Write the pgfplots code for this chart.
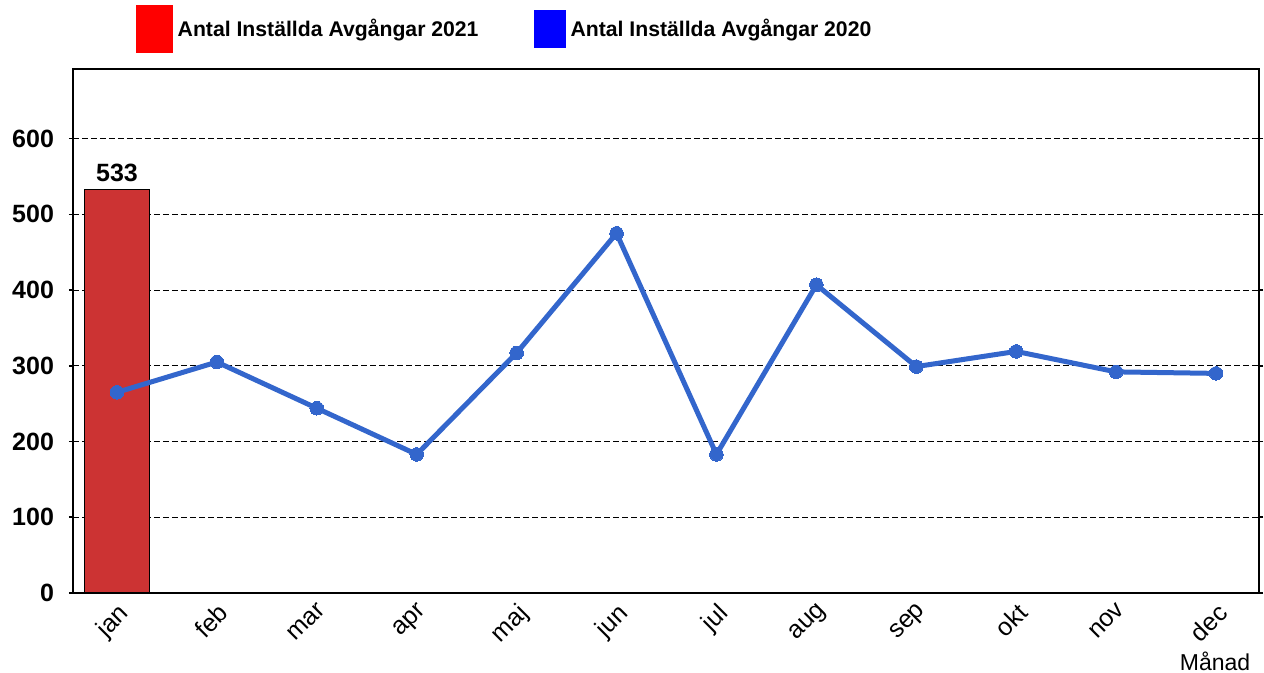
\documentclass[border=0pt]{standalone}
\usepackage{pgfplots}
\pgfplotsset{compat=1.18}
\usepackage{fontspec}
\setmainfont{Liberation Sans}
\definecolor{barred}{HTML}{CC3333}
\definecolor{lineblue}{HTML}{3366CC}
\definecolor{legred}{HTML}{FF0000}
\definecolor{legblue}{HTML}{0000FF}
\begin{document}
\begin{tikzpicture}
\path[use as bounding box] (0,0) rectangle (632pt,336.5pt);
\begin{axis}[
  at={(36.5pt,40pt)}, anchor=south west,
  scale only axis, width=593pt, height=262pt,
  xmin=-0.44, xmax=11.43, ymin=0, ymax=692,
  xtick={0,...,11},
  xticklabels={jan,feb,mar,apr,maj,jun,jul,aug,sep,okt,nov,dec},
  ytick={0,100,...,600},
  major x tick style={draw=none},
  tick align=outside, major tick length=2pt,
  ytick style={line width=0.8pt, black},
  /pgf/number format/assume math mode=true,
  yticklabel style={font=\bfseries\fontsize{12.5}{15}\selectfont, xshift=-4pt},
  xticklabel style={font=\fontsize{12.5}{15}\selectfont, rotate=45, anchor=north east, inner sep=1.5pt},
  ymajorgrids, grid style={black, dash pattern=on 3pt off 1.5pt, line width=0.5pt},
  axis line style={line width=1pt},
  xlabel={Månad},
  xlabel style={at={(axis description cs:0.963,-0.13)}, anchor=center, font=\fontsize{11.5}{14}\selectfont},
  legend columns=2,
  legend style={draw=none, fill=none, at={(axis description cs:0.048,1.076)}, anchor=west,
    font=\bfseries\fontsize{10.6}{13}\selectfont,
    /tikz/every even column/.append style={column sep=25pt},
    nodes={inner sep=2.5pt}},
]
\addplot[ybar, bar width=32.5pt, bar shift=0pt, fill=barred, draw=black, line width=0.7pt,
  nodes near coords, nodes near coords style={font=\bfseries\fontsize{12.5}{15}\selectfont, black, inner sep=3.5pt},
  legend image code/.code={\fill[legred] (0pt,-11.5pt) rectangle (17.5pt,11.5pt);}]
  coordinates {(0,533)};
\addlegendentry{Antal Inställda Avgångar 2021}
\addplot[lineblue, line width=2.5pt, mark=*, mark size=3.4pt, mark options={fill=lineblue, draw=lineblue, line width=0pt},
  legend image code/.code={\fill[legblue] (0pt,-8pt) rectangle (13.5pt,8.5pt);}]
  coordinates {(0,265) (1,305) (2,244) (3,183) (4,317) (5,475) (6,183) (7,407) (8,299) (9,319) (10,292) (11,290)};
\addlegendentry{Antal Inställda Avgångar 2020}
\end{axis}
\end{tikzpicture}
\end{document}
